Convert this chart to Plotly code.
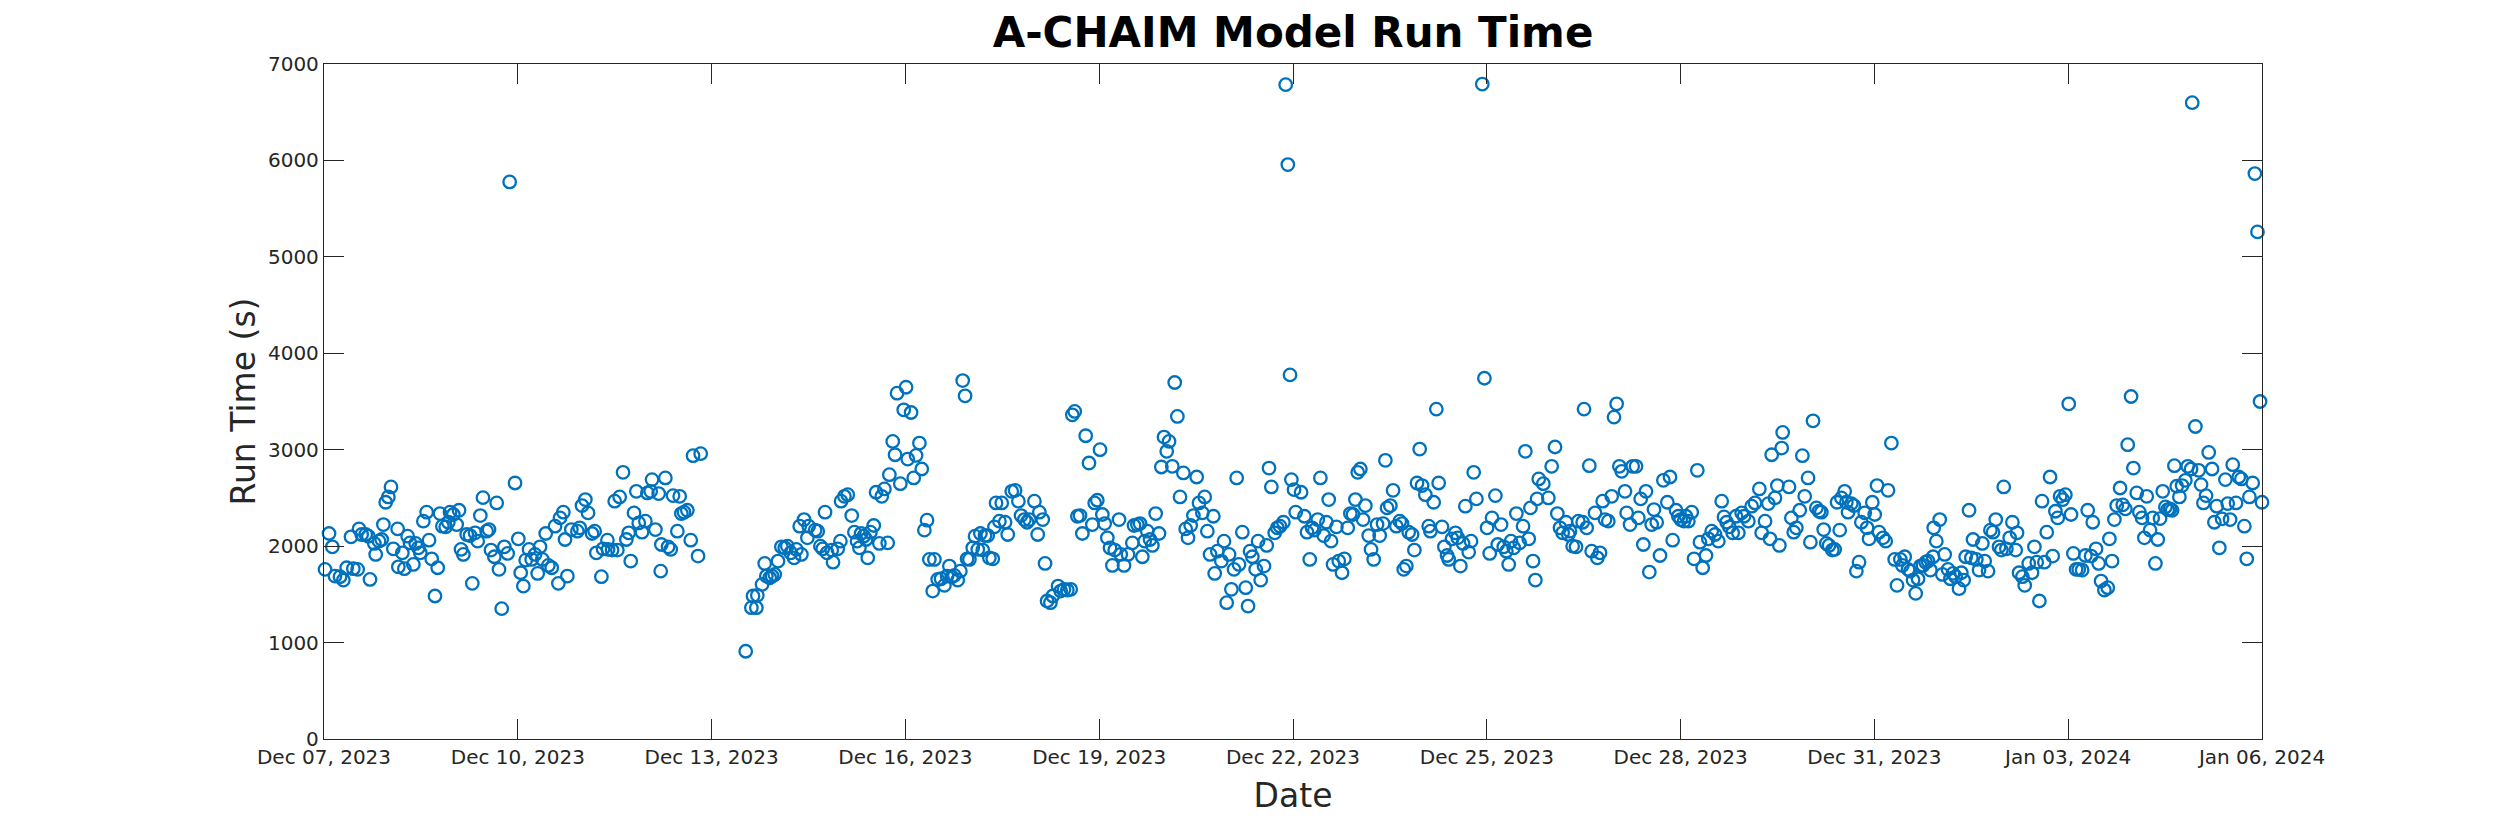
import pandas as pd
import plotly.graph_objects as go

START = "2023-12-07"

# Fractional days since Dec 07, 2023 00:00 and run time (s), by period
days_p1 = [0.016, 0.078, 0.129, 0.170, 0.248, 0.300, 0.351, 0.418, 0.454, 0.521, 0.542, 0.583, 0.645, 0.687,
           0.712, 0.779, 0.800, 0.852, 0.893, 0.919, 0.955, 0.996, 1.037, 1.073, 1.140, 1.151, 1.213, 1.244,
           1.295, 1.331, 1.383, 1.419, 1.460, 1.491, 1.538, 1.589, 1.626, 1.667, 1.718, 1.760, 1.796, 1.832,
           1.884, 1.925, 1.951, 2.002, 2.054, 2.090, 2.121, 2.157, 2.209, 2.260, 2.296, 2.338, 2.379, 2.420,
           2.461, 2.518, 2.554, 2.585, 2.637, 2.673, 2.709, 2.751, 2.792, 2.843, 2.874, 2.957, 3.008, 3.045,
           3.086, 3.122, 3.174, 3.215, 3.266, 3.308, 3.344, 3.380, 3.432, 3.473, 3.525, 3.576, 3.628, 3.653,
           3.705, 3.731]
vals_p1 = [1759, 2131, 1993, 1690, 1683, 1648, 1776, 2097, 1766, 1759, 2179, 2121, 2121, 2103,
           1655, 2028, 1914, 2052, 2069, 2224, 2455, 2510, 2614, 1972, 2179, 1786, 1931, 1766,
           2103, 2034, 1810, 2028, 1983, 1931, 2259, 2352, 2062, 1869, 1483, 1776, 2338, 2207,
           2200, 2248, 2352, 2328, 2224, 2372, 1966, 1914, 2121, 2110, 1614, 2138, 2052, 2317,
           2503, 2155, 2172, 1959, 1890, 2448, 1759, 1352, 1993, 1924, 5777, 2655, 2076, 1724,
           1586, 1855, 1966, 1862, 1914, 1717, 1993, 1862, 2131, 1800, 1776, 2207, 1614, 2293,
           2352, 2069]

days_p2 = [3.767, 3.829, 3.922, 3.958, 3.994, 4.046, 4.087, 4.149, 4.190, 4.216, 4.294, 4.319, 4.387, 4.397,
           4.459, 4.500, 4.541, 4.577, 4.629, 4.681, 4.717, 4.748, 4.799, 4.835, 4.872, 4.923, 4.975, 5.006,
           5.057, 5.078, 5.130, 5.181, 5.212, 5.222, 5.284, 5.326, 5.367, 5.403, 5.470, 5.506, 5.532, 5.573,
           5.625, 5.677, 5.713, 5.790, 5.831]
vals_p2 = [1690, 2172, 2155, 2190, 2421, 2483, 2345, 2131, 2155, 1931, 1683, 1972, 2062, 1966,
           1959, 2466, 1959, 2510, 2766, 2069, 2138, 1845, 2345, 2569, 2241, 2145, 2259, 2552,
           2569, 2690, 2172, 2545, 1741, 2017, 2707, 1993, 1966, 2524, 2155, 2517, 2338, 2352,
           2372, 2062, 2938, 1897, 2959]

days_p3 = [6.528, 6.616, 6.641, 6.693, 6.708, 6.781, 6.822, 6.848, 6.899, 6.936, 6.977, 7.028, 7.080, 7.132,
           7.173, 7.225, 7.276, 7.312, 7.364, 7.390, 7.431, 7.483, 7.503, 7.602, 7.643, 7.684, 7.720, 7.756,
           7.787, 7.860, 7.880, 7.952, 7.994, 8.004, 8.056, 8.107, 8.169, 8.210, 8.252, 8.288, 8.314, 8.355,
           8.391, 8.417, 8.458, 8.510, 8.546, 8.597, 8.634, 8.675, 8.726, 8.752, 8.804, 8.840, 8.871, 8.922,
           8.974, 9.010, 9.036, 9.088, 9.129, 9.165, 9.217, 9.253, 9.294, 9.335, 9.371, 9.423, 9.449, 9.500,
           9.552, 9.604, 9.645, 9.681, 9.717, 9.758, 9.810, 9.851, 9.887, 9.924, 9.955, 9.991, 10.042, 10.078,
           10.120, 10.161, 10.197, 10.233, 10.274, 10.300, 10.352, 10.378, 10.403, 10.455, 10.491, 10.543,
           10.584, 10.646, 10.698, 10.749, 10.790, 10.842, 10.883, 10.919, 10.997, 11.048, 11.074, 11.126,
           11.162, 11.193, 11.245, 11.281]
vals_p3 = [910, 1362, 1483, 1362, 1490, 1603, 1821, 1690, 1672, 1690, 1707, 1845, 1993, 1983,
           2000, 1931, 1879, 1966, 2207, 1914, 2276, 2086, 2207, 2166, 2155, 2000, 1972, 2352,
           1931, 1959, 1834, 1972, 2052, 2466, 2517, 2534, 2317, 2145, 2052, 1983, 2131, 2103,
           2069, 1879, 2145, 2214, 2559, 2028, 2517, 2593, 2034, 2741, 3086, 2948, 3586, 2648,
           3414, 3648, 2903, 3386, 2707, 2941, 3069, 2800, 2166, 2269, 1862, 1534, 1862, 1655,
           1662, 1593, 1690, 1793, 1683, 1697, 1648, 1741, 3717, 3559, 1869, 1862, 1983, 2103,
           1966, 2131, 1959, 2110, 2110, 1879, 1869, 2200, 2448, 2259, 2448, 2248,
           2121, 2569, 2579, 2466, 2317, 2276, 2248, 2276, 2466, 2121, 2352, 2276,
           1821, 1431, 1414, 1483]

days_p4 = [11.363, 11.404, 11.455, 11.507, 11.559, 11.584, 11.621, 11.662, 11.703, 11.739, 11.791, 11.842,
           11.894, 11.930, 11.971, 12.013, 12.049, 12.085, 12.126, 12.167, 12.204, 12.240, 12.307, 12.333,
           12.384, 12.446, 12.513, 12.539, 12.591, 12.632, 12.668, 12.704, 12.745, 12.787, 12.823, 12.874,
           12.926, 12.962, 13.003, 13.045, 13.081, 13.132, 13.169, 13.210, 13.251, 13.303, 13.339, 13.375,
           13.416, 13.458, 13.509, 13.545, 13.597, 13.633, 13.674, 13.716, 13.767, 13.788, 13.829, 13.891,
           13.932, 13.973, 14.010, 14.046, 14.087, 14.128, 14.164, 14.216, 14.268, 14.304, 14.335, 14.371,
           14.422, 14.459, 14.500, 14.551, 14.593, 14.629, 14.665, 14.717, 14.758, 14.799, 14.851, 14.887,
           14.920, 14.954, 14.975, 15.016, 15.042]
vals_p4 = [1586, 1534, 1552, 1545, 1552, 3362, 3397, 2310, 2317, 2131, 3145, 2862,
           2224, 2448, 2476, 3000, 2328, 2234, 2086, 1983, 1800, 1959, 2276, 1914,
           1800, 1914, 2034, 2214, 2224, 2234, 1890, 2052, 2155, 2069, 2007, 2338,
           2131, 2821, 3131, 2983, 3086, 2828, 3697, 3345, 2510, 2759, 2179, 2086,
           2214, 2317, 2717, 2448, 2345, 2510, 2155, 1914, 2310, 1717, 1948, 1845,
           2052, 1414, 1914, 1552, 1759, 2707, 1810, 2145, 1569, 1379, 1948, 1890,
           1759, 2052, 1648, 1793, 2007, 2810, 2614, 2138, 2190, 2207, 2248, 6786,
           5957, 3776, 2690, 2586, 2352]

days_p5 = [15.125, 15.176, 15.217, 15.259, 15.295, 15.331, 15.383, 15.424, 15.475, 15.517, 15.553, 15.589,
           15.620, 15.672, 15.708, 15.759, 15.795, 15.847, 15.888, 15.929, 15.966, 16.002, 16.043, 16.084,
           16.120, 16.172, 16.208, 16.249, 16.301, 16.342, 16.394, 16.430, 16.456, 16.507, 16.549, 16.600,
           16.652, 16.688, 16.714, 16.755, 16.791, 16.843, 16.879, 16.920, 16.961, 16.998, 17.049, 17.101,
           17.127, 17.178, 17.219, 17.255, 17.307, 17.343, 17.385, 17.410, 17.462, 17.514, 17.550, 17.591,
           17.632, 17.668, 17.720, 17.756, 17.797, 17.839, 17.930, 17.963, 18.004, 18.045, 18.081, 18.133,
           18.169, 18.221, 18.262, 18.303, 18.339, 18.375, 18.417, 18.458, 18.509, 18.561, 18.597, 18.649,
           18.675, 18.716, 18.752, 18.778, 18.804]
vals_p5 = [2559, 2310, 2145, 1862, 2190, 2166, 2276, 2707, 2110, 2248, 2483, 2052,
           1810, 2200, 1845, 1724, 1869, 2190, 2338, 2328, 2483, 2766, 2800, 2276,
           2421, 2110, 1966, 1862, 2224, 2110, 2234, 2890, 2397, 2421, 2579, 2207,
           2259, 2234, 1759, 1793, 2145, 2121, 1959, 2655, 3007, 2628, 2534, 2207,
           2155, 2455, 3421, 2655, 2200, 1993, 1903, 1862, 2076, 2138, 2086, 1793,
           2028, 2414, 1938, 2052, 2766, 2490, 6792, 3741, 2190, 1924, 2293, 2524,
           2017, 2224, 1993, 1948, 1810, 2052, 1983, 2338, 2034, 2207, 2983, 2076,
           2397, 1845, 1648, 2490, 2697]

days_p6 = [18.875, 18.953, 19.004, 19.056, 19.092, 19.133, 19.174, 19.226, 19.262, 19.288, 19.329, 19.381,
           19.417, 19.484, 19.505, 19.546, 19.587, 19.623, 19.675, 19.711, 19.752, 19.794, 19.830, 19.881,
           19.933, 19.969, 20.010, 20.052, 20.088, 20.139, 20.165, 20.217, 20.258, 20.310, 20.346, 20.382,
           20.423, 20.464, 20.516, 20.552, 20.588, 20.630, 20.681, 20.733, 20.795, 20.836, 20.877, 20.929,
           20.965, 21.001, 21.053, 21.084, 21.120, 21.172, 21.208, 21.259, 21.300, 21.342, 21.393, 21.429,
           21.481, 21.533, 21.584, 21.636, 21.672, 21.713, 21.754, 21.806, 21.858, 21.894, 21.945, 21.982,
           22.049, 22.100, 22.152, 22.219, 22.255, 22.307, 22.358, 22.384, 22.410, 22.461, 22.498, 22.529,
           22.565, 22.580]
vals_p6 = [2648, 2500, 2828, 3028, 2338, 2190, 2138, 2248, 2121, 2155, 2000, 1993,
           2259, 2248, 3421, 2190, 2834, 1948, 2345, 1879, 1931, 2466, 2276, 2259,
           2517, 3338, 3476, 2828, 2776, 2569, 2345, 2224, 2828, 2828, 2293, 2490,
           2017, 2569, 1731, 2224, 2379, 2248, 1903, 2683, 2455, 2717, 2062, 2372,
           2310, 2276, 2259, 2310, 2259, 2352, 1869, 2786, 2041, 1776, 1903, 2076,
           2155, 2121, 2052, 2466, 2303, 2248, 2200, 2138, 2310, 2138, 2345, 2310,
           2259, 2414, 2448, 2593, 2138, 2259, 2441, 2076, 2948, 2500, 2628, 2007,
           3017, 3179]

days_p7 = [22.678, 22.715, 22.751, 22.792, 22.844, 22.885, 22.921, 22.973, 23.009, 23.050, 23.102, 23.143,
           23.179, 23.215, 23.256, 23.298, 23.349, 23.385, 23.422, 23.463, 23.489, 23.540, 23.566, 23.592,
           23.643, 23.680, 23.721, 23.762, 23.798, 23.850, 23.886, 23.917, 23.968, 24.005, 24.041, 24.072,
           24.134, 24.175, 24.211, 24.263, 24.314, 24.350, 24.402, 24.433, 24.469, 24.521, 24.557, 24.598,
           24.639, 24.675, 24.712, 24.753, 24.794, 24.830, 24.866, 24.908, 24.918, 24.959, 25.011, 25.052,
           25.088, 25.140, 25.176, 25.217, 25.258, 25.310, 25.346, 25.382, 25.413, 25.465, 25.501, 25.527,
           25.578, 25.620, 25.671, 25.707, 25.759, 25.795, 25.836, 25.878, 25.929, 25.965, 26.002, 26.043,
           26.094, 26.136, 26.187, 26.208, 26.239, 26.291, 26.327]
vals_p7 = [2614, 2293, 2145, 2190, 2372, 2938, 2517, 2707, 2041, 3300, 2397, 2362,
           2352, 2172, 2028, 2007, 1959, 1966, 2455, 2166, 2500, 2569, 2455, 2352,
           2441, 2421, 1741, 1834, 2248, 2345, 2190, 2076, 2455, 2328, 2628, 2145,
           2086, 2052, 2579, 3069, 1862, 1593, 1862, 1800, 1890, 1759, 1741, 1648,
           1510, 1662, 1793, 1800, 1834, 1845, 1752, 1890, 2190, 2052, 2276, 1707,
           1914, 1759, 1662, 1717, 1683, 1559, 1724, 1648, 1890, 2372, 1879, 2069,
           1862, 1752, 2028, 1845, 1741, 2166, 2145, 2276, 1993, 1959, 2614, 1972,
           2086, 2248, 1959, 2138, 1724, 1683, 1593]

days_p8 = [26.389, 26.440, 26.477, 26.513, 26.554, 26.595, 26.631, 26.668, 26.719, 26.760, 26.802, 26.838,
           26.874, 26.915, 26.956, 27.008, 27.044, 27.080, 27.122, 27.163, 27.215, 27.266, 27.302, 27.354,
           27.380, 27.431, 27.472, 27.509, 27.560, 27.612, 27.638, 27.679, 27.715, 27.751, 27.803, 27.844,
           27.885, 27.921, 27.973, 28.009, 28.061, 28.102, 28.143, 28.179, 28.216, 28.267, 28.308, 28.350,
           28.386, 28.422, 28.463, 28.505, 28.541, 28.577, 28.608, 28.644, 28.680, 28.721, 28.763, 28.814,
           28.850, 28.902, 28.920, 28.969, 29.020, 29.057, 29.093, 29.134, 29.175, 29.227, 29.263, 29.299,
           29.340, 29.382, 29.433, 29.469, 29.506, 29.547, 29.598, 29.640, 29.681, 29.727, 29.764, 29.805,
           29.856, 29.890, 29.930, 29.970, 30.000]
vals_p8 = [1821, 1724, 1993, 1834, 1431, 2466, 1834, 2145, 2717, 1897, 2362, 2293,
           2517, 2483, 2534, 3476, 2328, 1924, 1759, 1759, 1752, 1903, 2372, 1897,
           2248, 1972, 1821, 1638, 1545, 1569, 2076, 1845, 2276, 2421, 2603, 2428,
           2386, 3052, 3552, 2810, 2552, 2352, 2293, 2086, 2517, 2166, 2293, 1821,
           2069, 2286, 2569, 2407, 2379, 2386, 2372, 2834, 2621, 2510, 2628, 2683,
           2828, 2800, 6599, 3241, 2786, 2638, 2448, 2524, 2972, 2800, 2248, 2414,
           1983, 2283, 2690, 2441, 2276, 2845, 2448, 2717, 2697, 2207, 1869, 2510,
           2655, 5864, 5259, 3500, 2455]

all_days = days_p1 + days_p2 + days_p3 + days_p4 + days_p5 + days_p6 + days_p7 + days_p8
all_vals = vals_p1 + vals_p2 + vals_p3 + vals_p4 + vals_p5 + vals_p6 + vals_p7 + vals_p8

df = pd.DataFrame({"day": all_days, "runtime": all_vals})
df["time"] = pd.Timestamp(START) + pd.to_timedelta(df["day"], unit="D")

AX = "#262626"
FONT = "DejaVu Sans"

fig = go.Figure()
fig.add_trace(go.Scatter(
    x=df["time"], y=df["runtime"], mode="markers",
    marker=dict(symbol="circle-open", size=12.5, color="#0072BD",
                line=dict(width=2.3, color="#0072BD")),
    cliponaxis=False, showlegend=False,
))

fig.update_layout(
    width=2500, height=833,
    paper_bgcolor="white", plot_bgcolor="white",
    margin=dict(l=316, r=246, t=56, b=102),
    font=dict(family=FONT, color=AX),
    title=dict(text="<b>A-CHAIM Model Run Time</b>", x=0.5, xref="paper", xanchor="center",
               y=1 - 24 / 833, yref="container", yanchor="middle",
               font=dict(size=42, color="black", family=FONT)),
)
fig.update_xaxes(
    range=["2023-12-07", "2024-01-06"],
    tick0="2023-12-07", dtick=3 * 86400000, tickformat="%b %d, %Y",
    showline=True, linecolor=AX, linewidth=1.3, mirror="ticks",
    ticks="inside", ticklen=20, tickwidth=1.3, tickcolor=AX,
    showgrid=False, zeroline=False,
    tickfont=dict(size=20, color=AX, family=FONT),
    title=dict(text="Date", font=dict(size=33, color=AX, family=FONT), standoff=15),
)
fig.update_yaxes(
    range=[0, 7000], dtick=1000, tick0=0,
    showline=True, linecolor=AX, linewidth=1.3, mirror="ticks",
    ticks="inside", ticklen=20, tickwidth=1.3, tickcolor=AX,
    showgrid=False, zeroline=False,
    tickfont=dict(size=20, color=AX, family=FONT),
    title=dict(text="Run Time (s)", font=dict(size=33, color=AX, family=FONT), standoff=2),
)

fig.write_html("out.html")
